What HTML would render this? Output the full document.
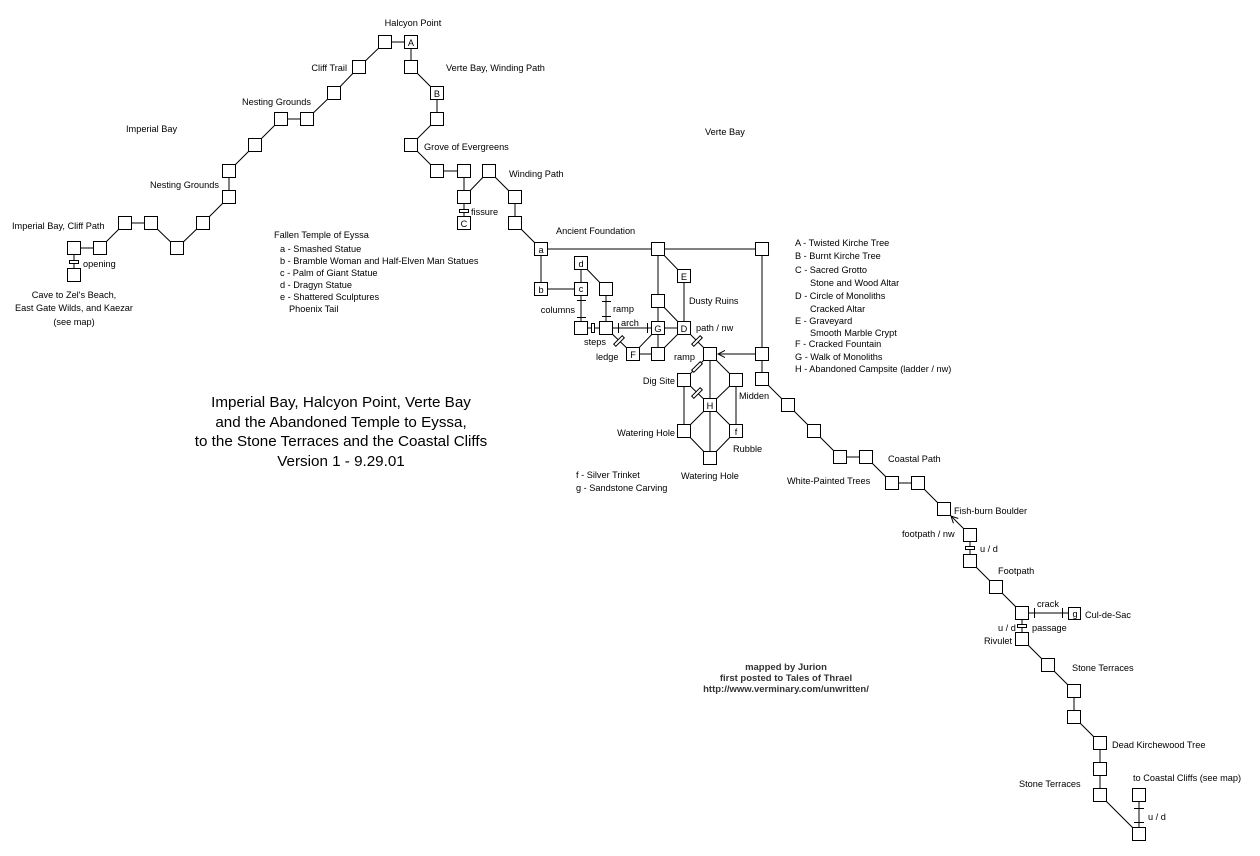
<!DOCTYPE html>
<html><head><meta charset="utf-8"><style>
html,body{margin:0;padding:0;background:#fff;}
svg{display:block;}
text{font-family:"Liberation Sans",sans-serif;font-size:9.2px;fill:#000;}
.t{font-size:15.2px;text-anchor:middle;}
.c{font-size:9.5px;font-weight:bold;fill:#333;text-anchor:middle;}
.m{text-anchor:middle;}
.e{text-anchor:end;}
</style></head><body>
<svg width="1260" height="856" viewBox="0 0 1260 856" xmlns="http://www.w3.org/2000/svg">
<defs>
<marker id="ar" markerWidth="8" markerHeight="8" refX="7" refY="4" orient="auto" markerUnits="userSpaceOnUse"><path d="M0,0.5 L7,4 L0,7.5" fill="none" stroke="#000" stroke-width="1"/></marker>
</defs>
<g stroke="#000" stroke-width="1" fill="none">
<polyline points="411,42 385,42 359,67 334,93 307,119 281,119 255,145 229,171 229,197 203,223 177,248 151,223 125,223 100,248 74,248 74,275"/>
<polyline points="411,42 411,67 437,93 437,119 411,145 437,171 464,171 464,223"/>
<polyline points="464,197 489,171 515,197 515,223 541,249"/>
<polyline points="541,289 541,249 762,249 762,379 788,405 814,431 840,457 866,457 892,483 918,483 944,509"/>
<line x1="658" y1="249" x2="658" y2="354"/>
<line x1="658" y1="249" x2="684" y2="276"/>
<line x1="684" y1="276" x2="684" y2="328"/>
<line x1="658" y1="301" x2="684" y2="328"/>
<line x1="541" y1="289" x2="581" y2="289"/>
<line x1="581" y1="263" x2="581" y2="328"/>
<line x1="581" y1="263" x2="606" y2="289"/>
<line x1="606" y1="289" x2="606" y2="328"/>
<line x1="581" y1="328" x2="684" y2="328"/>
<line x1="658" y1="328" x2="633" y2="354"/>
<line x1="633" y1="354" x2="658" y2="354"/>
<line x1="684" y1="328" x2="658" y2="354"/>
<line x1="606" y1="328" x2="633" y2="354"/>
<line x1="684" y1="328" x2="710" y2="354"/>
<line x1="762" y1="354" x2="718" y2="354" marker-end="url(#ar)"/>
<line x1="710" y1="354" x2="684" y2="380"/>
<line x1="710" y1="354" x2="710" y2="458"/>
<line x1="710" y1="354" x2="736" y2="380"/>
<line x1="684" y1="380" x2="710" y2="405"/>
<line x1="736" y1="380" x2="710" y2="405"/>
<line x1="684" y1="380" x2="684" y2="431"/>
<line x1="736" y1="380" x2="736" y2="431"/>
<polyline points="710,405 684,431 710,458 736,431 710,405"/>
<line x1="970" y1="535" x2="951" y2="516" marker-end="url(#ar)"/>
<polyline points="970,535 970,561 996,587 1022,613 1075,613"/>
<polyline points="1022,613 1022,639 1048,665 1074,691 1074,717 1100,743 1100,795 1139,834 1139,795"/>
<g fill="#fff">
<rect x="69.5" y="260.5" width="9" height="3"/>
<rect x="459.5" y="209.5" width="9" height="3"/>
<rect x="965.5" y="546.5" width="9" height="3"/>
<rect x="1017.5" y="624.5" width="9" height="3"/>
<rect x="591.5" y="323.5" width="3" height="9"/>
</g>
<line x1="577" y1="300.5" x2="586" y2="300.5"/>
<line x1="577" y1="317.5" x2="586" y2="317.5"/>
<line x1="602" y1="301.5" x2="611" y2="301.5"/>
<line x1="602" y1="316.5" x2="611" y2="316.5"/>
<line x1="618.5" y1="323" x2="618.5" y2="333"/>
<line x1="647.5" y1="323" x2="647.5" y2="333"/>
<line x1="1034.5" y1="608" x2="1034.5" y2="618"/>
<line x1="1062.5" y1="608" x2="1062.5" y2="618"/>
<line x1="1134" y1="808.5" x2="1144" y2="808.5"/>
<line x1="1134" y1="822.5" x2="1144" y2="822.5"/>
<g fill="#fff">
<rect x="-6" y="-1.5" width="12" height="3" transform="translate(619,341) rotate(-45)"/>
<rect x="-6" y="-1.5" width="12" height="3" transform="translate(697,341) rotate(-45)"/>
<rect x="-6" y="-1.5" width="12" height="3" transform="translate(697,367) rotate(-45)"/>
<rect x="-6" y="-1.5" width="12" height="3" transform="translate(697,393) rotate(-45)"/>
</g>
</g>
<g stroke="#000" stroke-width="1" fill="#fff">
<rect x="378.5" y="35.5" width="13" height="13"/><rect x="404.5" y="35.5" width="13" height="13"/>
<rect x="352.5" y="60.5" width="13" height="13"/><rect x="327.5" y="86.5" width="13" height="13"/>
<rect x="300.5" y="112.5" width="13" height="13"/><rect x="274.5" y="112.5" width="13" height="13"/>
<rect x="248.5" y="138.5" width="13" height="13"/><rect x="222.5" y="164.5" width="13" height="13"/>
<rect x="222.5" y="190.5" width="13" height="13"/><rect x="196.5" y="216.5" width="13" height="13"/>
<rect x="170.5" y="241.5" width="13" height="13"/><rect x="144.5" y="216.5" width="13" height="13"/>
<rect x="118.5" y="216.5" width="13" height="13"/><rect x="93.5" y="241.5" width="13" height="13"/>
<rect x="67.5" y="241.5" width="13" height="13"/><rect x="67.5" y="268.5" width="13" height="13"/>
<rect x="404.5" y="60.5" width="13" height="13"/><rect x="430.5" y="86.5" width="13" height="13"/>
<rect x="430.5" y="112.5" width="13" height="13"/><rect x="404.5" y="138.5" width="13" height="13"/>
<rect x="430.5" y="164.5" width="13" height="13"/><rect x="457.5" y="164.5" width="13" height="13"/>
<rect x="457.5" y="190.5" width="13" height="13"/><rect x="457.5" y="216.5" width="13" height="13"/>
<rect x="482.5" y="164.5" width="13" height="13"/><rect x="508.5" y="190.5" width="13" height="13"/>
<rect x="508.5" y="216.5" width="13" height="13"/>
<rect x="534.5" y="242.5" width="13" height="13"/><rect x="651.5" y="242.5" width="13" height="13"/>
<rect x="755.5" y="242.5" width="13" height="13"/><rect x="534.5" y="282.5" width="13" height="13"/>
<rect x="574.5" y="282.5" width="13" height="13"/><rect x="574.5" y="256.5" width="13" height="13"/>
<rect x="599.5" y="282.5" width="13" height="13"/><rect x="677.5" y="269.5" width="13" height="13"/>
<rect x="651.5" y="294.5" width="13" height="13"/><rect x="574.5" y="321.5" width="13" height="13"/>
<rect x="599.5" y="321.5" width="13" height="13"/><rect x="651.5" y="321.5" width="13" height="13"/>
<rect x="677.5" y="321.5" width="13" height="13"/><rect x="626.5" y="347.5" width="13" height="13"/>
<rect x="651.5" y="347.5" width="13" height="13"/><rect x="703.5" y="347.5" width="13" height="13"/>
<rect x="755.5" y="347.5" width="13" height="13"/><rect x="755.5" y="372.5" width="13" height="13"/>
<rect x="677.5" y="373.5" width="13" height="13"/><rect x="729.5" y="373.5" width="13" height="13"/>
<rect x="703.5" y="398.5" width="13" height="13"/><rect x="677.5" y="424.5" width="13" height="13"/>
<rect x="729.5" y="424.5" width="13" height="13"/><rect x="703.5" y="451.5" width="13" height="13"/>
<rect x="781.5" y="398.5" width="13" height="13"/><rect x="807.5" y="424.5" width="13" height="13"/>
<rect x="833.5" y="450.5" width="13" height="13"/><rect x="859.5" y="450.5" width="13" height="13"/>
<rect x="885.5" y="476.5" width="13" height="13"/><rect x="911.5" y="476.5" width="13" height="13"/>
<rect x="937.5" y="502.5" width="13" height="13"/><rect x="963.5" y="528.5" width="13" height="13"/>
<rect x="963.5" y="554.5" width="13" height="13"/><rect x="989.5" y="580.5" width="13" height="13"/>
<rect x="1015.5" y="606.5" width="13" height="13"/><rect x="1068.5" y="607.5" width="12" height="12"/>
<rect x="1015.5" y="632.5" width="13" height="13"/><rect x="1041.5" y="658.5" width="13" height="13"/>
<rect x="1067.5" y="684.5" width="13" height="13"/><rect x="1067.5" y="710.5" width="13" height="13"/>
<rect x="1093.5" y="736.5" width="13" height="13"/><rect x="1093.5" y="762.5" width="13" height="13"/>
<rect x="1093.5" y="788.5" width="13" height="13"/><rect x="1132.5" y="788.5" width="13" height="13"/>
<rect x="1132.5" y="827.5" width="13" height="13"/>
</g>
<g>
<text x="411" y="46" class="m">A</text><text x="437" y="97" class="m">B</text><text x="464" y="227" class="m">C</text>
<text x="541" y="253" class="m">a</text><text x="541" y="293" class="m">b</text><text x="581" y="292" class="m">c</text>
<text x="581" y="267" class="m">d</text><text x="684" y="280" class="m">E</text><text x="658" y="332" class="m">G</text>
<text x="684" y="332" class="m">D</text><text x="633" y="358" class="m">F</text><text x="710" y="409" class="m">H</text>
<text x="736" y="435" class="m">f</text><text x="1075" y="617" class="m">g</text>
</g>
<text x="413" y="26" class="m">Halcyon Point</text>
<text x="347" y="71" class="e">Cliff Trail</text>
<text x="446" y="71">Verte Bay, Winding Path</text>
<text x="242" y="105">Nesting Grounds</text>
<text x="126" y="132">Imperial Bay</text>
<text x="424" y="150">Grove of Evergreens</text>
<text x="509" y="177">Winding Path</text>
<text x="150" y="188">Nesting Grounds</text>
<text x="471" y="215">fissure</text>
<text x="12" y="229">Imperial Bay, Cliff Path</text>
<text x="556" y="234">Ancient Foundation</text>
<text x="83" y="267">opening</text>
<text x="705" y="135">Verte Bay</text>
<text x="274" y="238">Fallen Temple of Eyssa</text>
<text x="280" y="252">a - Smashed Statue</text>
<text x="280" y="264">b - Bramble Woman and Half-Elven Man Statues</text>
<text x="280" y="276">c - Palm of Giant Statue</text>
<text x="280" y="288">d - Dragyn Statue</text>
<text x="280" y="300">e - Shattered Sculptures</text>
<text x="289" y="312">Phoenix Tail</text>
<text x="74" y="298" class="m">Cave to Zel's Beach,</text>
<text x="74" y="311" class="m">East Gate Wilds, and Kaezar</text>
<text x="74" y="325" class="m">(see map)</text>
<text x="795" y="246">A - Twisted Kirche Tree</text>
<text x="795" y="259">B - Burnt Kirche Tree</text>
<text x="795" y="273">C - Sacred Grotto</text>
<text x="810" y="286">Stone and Wood Altar</text>
<text x="795" y="299">D - Circle of Monoliths</text>
<text x="810" y="312">Cracked Altar</text>
<text x="795" y="324">E - Graveyard</text>
<text x="810" y="336">Smooth Marble Crypt</text>
<text x="795" y="347">F - Cracked Fountain</text>
<text x="795" y="360">G - Walk of Monoliths</text>
<text x="795" y="372">H - Abandoned Campsite (ladder / nw)</text>
<text x="689" y="304">Dusty Ruins</text>
<text x="575" y="313" class="e">columns</text>
<text x="613" y="312">ramp</text>
<text x="621" y="326">arch</text>
<text x="584" y="345">steps</text>
<text x="696" y="331">path / nw</text>
<text x="596" y="360">ledge</text>
<text x="674" y="360">ramp</text>
<text x="675" y="384" class="e">Dig Site</text>
<text x="739" y="399">Midden</text>
<text x="675" y="436" class="e">Watering Hole</text>
<text x="733" y="452">Rubble</text>
<text x="681" y="479">Watering Hole</text>
<text x="576" y="478">f - Silver Trinket</text>
<text x="576" y="491">g - Sandstone Carving</text>
<text x="341" y="407" class="t">Imperial Bay, Halcyon Point, Verte Bay</text>
<text x="341" y="427" class="t">and the Abandoned Temple to Eyssa,</text>
<text x="341" y="446" class="t">to the Stone Terraces and the Coastal Cliffs</text>
<text x="341" y="466" class="t">Version 1 - 9.29.01</text>
<text x="786" y="670" class="c">mapped by Jurion</text>
<text x="786" y="681" class="c">first posted to Tales of Thrael</text>
<text x="786" y="692" class="c">http://www.verminary.com/unwritten/</text>
<text x="888" y="462">Coastal Path</text>
<text x="787" y="484">White-Painted Trees</text>
<text x="954" y="514">Fish-burn Boulder</text>
<text x="902" y="537">footpath / nw</text>
<text x="980" y="552">u / d</text>
<text x="998" y="574">Footpath</text>
<text x="1037" y="607">crack</text>
<text x="1085" y="618">Cul-de-Sac</text>
<text x="998" y="631">u / d</text>
<text x="1032" y="631">passage</text>
<text x="984" y="644">Rivulet</text>
<text x="1072" y="671">Stone Terraces</text>
<text x="1112" y="748">Dead Kirchewood Tree</text>
<text x="1019" y="787">Stone Terraces</text>
<text x="1133" y="781">to Coastal Cliffs (see map)</text>
<text x="1148" y="820">u / d</text>
</svg>
</body></html>
